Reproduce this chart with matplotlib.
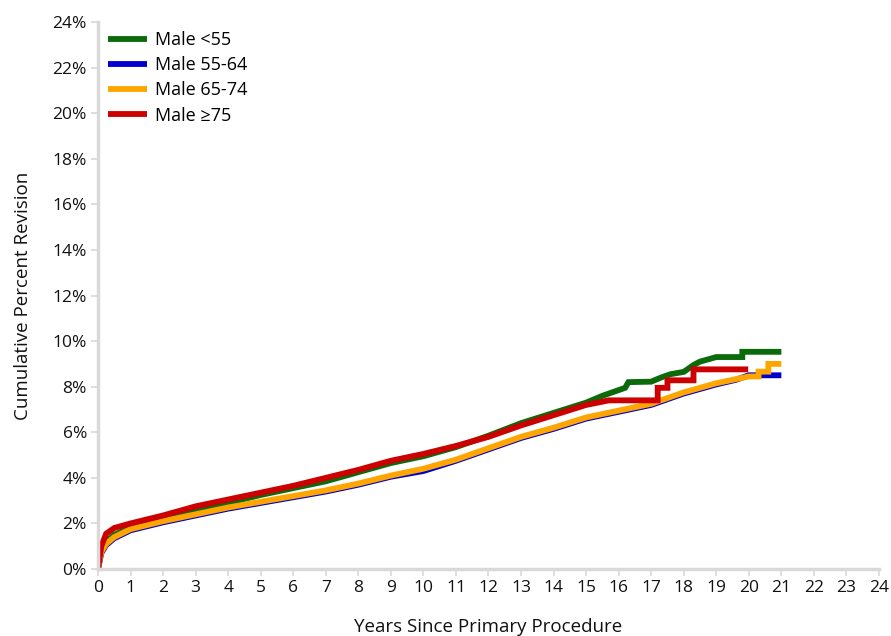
import matplotlib.pyplot as plt
from matplotlib.ticker import FuncFormatter

plt.rcParams['font.family'] = ['Open Sans', 'DejaVu Sans']

# Male <55
green_t = [0, 0.1, 0.25, 0.5, 1, 2, 3, 4, 5, 6, 7, 8, 9, 10, 11, 12, 13, 14, 15, 15.5,
           16.2, 16.3, 17.0, 17.3, 17.6, 18.0, 18.3, 18.5, 19.0, 19.8, 19.8, 21.0]
green_y = [0, 0.8, 1.2, 1.5, 1.8, 2.2, 2.55, 2.9, 3.25, 3.55, 3.85, 4.25, 4.65, 4.95, 5.35, 5.85,
           6.4, 6.85, 7.3, 7.6, 7.95, 8.2, 8.22, 8.4, 8.55, 8.65, 8.95, 9.1, 9.3, 9.3, 9.53, 9.53]

# Male 55-64
blue_t = [0, 0.1, 0.25, 0.5, 1, 2, 3, 4, 5, 6, 7, 8, 9, 10, 11, 12, 13, 14, 15, 16, 17, 18,
          19, 19.6, 20.0, 21.0]
blue_y = [0, 0.7, 1.05, 1.35, 1.7, 2.05, 2.35, 2.65, 2.9, 3.15, 3.4, 3.7, 4.05, 4.3, 4.75, 5.25,
          5.75, 6.15, 6.6, 6.9, 7.2, 7.7, 8.1, 8.3, 8.5, 8.5]

# Male 65-74
yellow_t = [0, 0.1, 0.25, 0.5, 1, 2, 3, 4, 5, 6, 7, 8, 9, 10, 11, 12, 13, 14, 15, 16, 17, 18,
            19, 20.0, 20.3, 20.3, 20.6, 20.6, 21.0]
yellow_y = [0, 0.75, 1.1, 1.4, 1.75, 2.1, 2.4, 2.7, 2.95, 3.2, 3.45, 3.75, 4.1, 4.4, 4.8, 5.3,
            5.8, 6.2, 6.65, 6.95, 7.25, 7.75, 8.15, 8.45, 8.45, 8.66, 8.66, 9.0, 9.0]

# Male >=75
red_t = [0, 0.1, 0.25, 0.5, 1, 2, 3, 4, 5, 6, 7, 8, 9, 10, 11, 12, 13, 14, 15, 15.7,
         17.2, 17.2, 17.5, 17.5, 18.3, 18.3, 19.98]
red_y = [0, 1.0, 1.55, 1.8, 2.0, 2.35, 2.75, 3.05, 3.35, 3.65, 4.0, 4.35, 4.75, 5.05, 5.4, 5.8,
         6.3, 6.75, 7.2, 7.4, 7.4, 7.95, 7.95, 8.28, 8.28, 8.76, 8.76]

series = [
    ('Male <55', green_t, green_y, '#0b6b0b'),
    ('Male 55-64', blue_t, blue_y, '#0000cc'),
    ('Male 65-74', yellow_t, yellow_y, '#ffa500'),
    ('Male \u226575', red_t, red_y, '#cc0000'),
]

fig = plt.figure(figsize=(8.91, 6.36), dpi=100)
ax = fig.add_axes([0.110, 0.1053, 0.8765, 0.8601])

for name, t, y, c in series:
    ax.plot(t, y, color=c, lw=4.2, label=name, solid_joinstyle='miter', solid_capstyle='butt')

ax.set_xlim(0, 24)
ax.set_ylim(0, 24)
ax.set_xticks(range(0, 25))
ax.set_yticks(range(0, 25, 2))
ax.yaxis.set_major_formatter(FuncFormatter(lambda v, p: '%d%%' % v))

for s in ['top', 'right']:
    ax.spines[s].set_visible(False)
for s in ['left', 'bottom']:
    ax.spines[s].set_color('#d9d9d9')
    ax.spines[s].set_linewidth(2.5)
ax.tick_params(axis='both', colors='#d9d9d9', labelcolor='#111111', labelsize=12.5,
               width=1.2, length=5, pad=3)

ax.set_xlabel('Years Since Primary Procedure', fontsize=13.5, labelpad=16, color='#111111')
ax.set_ylabel('Cumulative Percent Revision', fontsize=13.5, labelpad=15, color='#111111')

ax.legend(loc='upper left', frameon=False, fontsize=13, handlelength=2.2, handletextpad=0.4,
          borderaxespad=0.0, labelspacing=0.4, bbox_to_anchor=(0.003, 0.997))

fig.savefig('out.png', dpi=100)
